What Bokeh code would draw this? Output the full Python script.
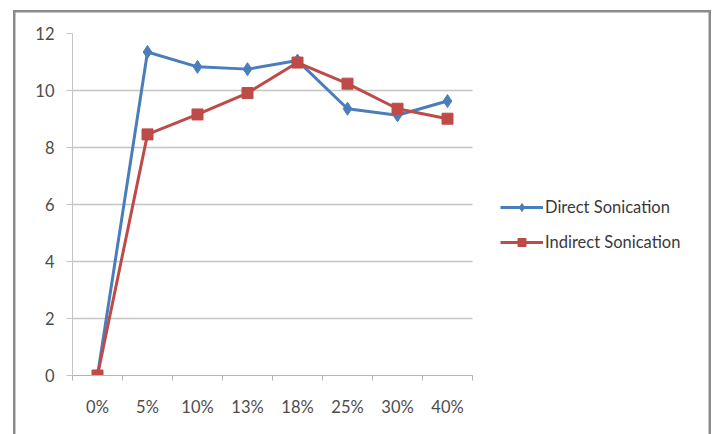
from bokeh.plotting import figure
from bokeh.models import (Range1d, LinearAxis, FixedTicker, Legend, LegendItem,
                          ColumnDataSource)
from bokeh.embed import file_html
from bokeh.resources import INLINE

# Concentration levels and the two sonication series
categories = ["0%", "5%", "10%", "13%", "18%", "25%", "30%", "40%"]
direct = [0, 11.35, 10.83, 10.75, 11.05, 9.36, 9.13, 9.63]
indirect = [0, 8.46, 9.16, 9.91, 10.98, 10.24, 9.36, 9.01]
y_ticks = [0, 2, 4, 6, 8, 10, 12]

BLUE = "#4A7EBB"
RED = "#BE4B48"
FONT = "Lato"
TEXT = "#4d4d4d"
GRID = "#c4c4c4"
EDGE = "#8c8c8c"
FS = "16.5px"

# layout (pixels): the frame also hosts the legend to the right of the data
W, H = 715, 434
LEFT, RIGHT, TOP, BOTTOM = 72, 10, 33, 59
DATA_W = 400                      # width taken by the category slots
FRAME_W = W - LEFT - RIGHT

# each category occupies one unit slot; points sit in the slot centres
n = len(categories)
centers = [i + 0.5 for i in range(n)]
edges = list(range(n + 1))
src = ColumnDataSource(dict(x=centers, direct=direct, indirect=indirect))

# chart-area frame: grey rule on the left, top and right of the canvas
frame_css = ", ".join([
    "inset 13px 0 0 0 #ffffff",
    "inset 0 10px 0 0 #ffffff",
    "inset -4px 0 0 0 #ffffff",
    f"inset 15.5px 0 0 0 {EDGE}",
    f"inset 0 12.5px 0 0 {EDGE}",
    f"inset -6.5px 0 0 0 {EDGE}",
])

p = figure(
    width=W, height=H,
    x_range=Range1d(0, n * FRAME_W / DATA_W), y_range=Range1d(0, 12),
    x_axis_location=None, y_axis_location="left",
    output_backend="svg", toolbar_location=None,
    min_border_left=LEFT, min_border_right=RIGHT,
    min_border_top=TOP, min_border_bottom=BOTTOM,
    background_fill_alpha=0, border_fill_alpha=0,
    styles={"box-shadow": frame_css, "background-color": "#ffffff"},
)
p.outline_line_color = None
p.xgrid.grid_line_color = None

# horizontal grid confined to the category slots
try:
    p.ygrid.cross_bounds = (0, n)
    p.ygrid.grid_line_color = GRID
    p.ygrid.grid_line_width = 1.4
    p.ygrid.ticker = FixedTicker(ticks=y_ticks)
except Exception:
    p.ygrid.grid_line_color = None
    p.segment(x0=[0] * len(y_ticks), x1=[n] * len(y_ticks),
              y0=y_ticks, y1=y_ticks, line_color=GRID, line_width=1.4,
              level="underlay")

# y axis
ya = p.yaxis[0]
ya.ticker = FixedTicker(ticks=y_ticks)
ya.axis_line_color = GRID
ya.major_tick_line_color = GRID
ya.major_tick_out = 6
ya.major_tick_in = 0
ya.minor_tick_line_color = None
ya.major_label_standoff = 12
ya.major_label_text_font = FONT
ya.major_label_text_font_size = FS
ya.major_label_text_color = TEXT

# boundary tick marks between categories, nearest the plot area
edge_axis = LinearAxis(
    ticker=FixedTicker(ticks=edges), bounds=(0, n),
    axis_line_color="#b5b5b5", major_tick_line_color="#b5b5b5",
    major_tick_out=5, major_tick_in=0, minor_tick_line_color=None,
    major_label_text_font_size="0px", major_label_standoff=0,
    major_label_text_alpha=0,
)
p.add_layout(edge_axis, "below")

# category labels at slot centres
cat_axis = LinearAxis(
    ticker=FixedTicker(ticks=centers), bounds=(0, n),
    major_label_overrides={c: lab for c, lab in zip(centers, categories)},
    axis_line_color=None, major_tick_line_color=None,
    minor_tick_line_color=None,
    major_tick_out=0, major_tick_in=0,
    major_label_standoff=16,
    major_label_text_font=FONT, major_label_text_font_size=FS,
    major_label_text_color=TEXT,
)
p.add_layout(cat_axis, "below")

# series
l1 = p.line("x", "direct", source=src, line_color=BLUE, line_width=3)
s1 = p.scatter("x", "direct", source=src, marker="diamond", size=13,
               fill_color=BLUE, line_color=BLUE)
l2 = p.line("x", "indirect", source=src, line_color=RED, line_width=3)
s2 = p.scatter("x", "indirect", source=src, marker="square", size=11,
               fill_color=RED, line_color=RED)

# legend in the free space right of the data slots
legend = Legend(
    items=[LegendItem(label="Direct Sonication", renderers=[l1, s1]),
           LegendItem(label="Indirect Sonication", renderers=[l2, s2])],
    location=(DATA_W + 28, 123),
    border_line_alpha=0, background_fill_alpha=0,
    padding=0, margin=0, spacing=15,
    glyph_width=43, glyph_height=20, label_height=20,
    label_standoff=2,
    label_text_font=FONT, label_text_font_size=FS,
    label_text_color="#3a3a3a",
)
p.add_layout(legend, "center")

open("out.html", "w").write(file_html(p, INLINE))
